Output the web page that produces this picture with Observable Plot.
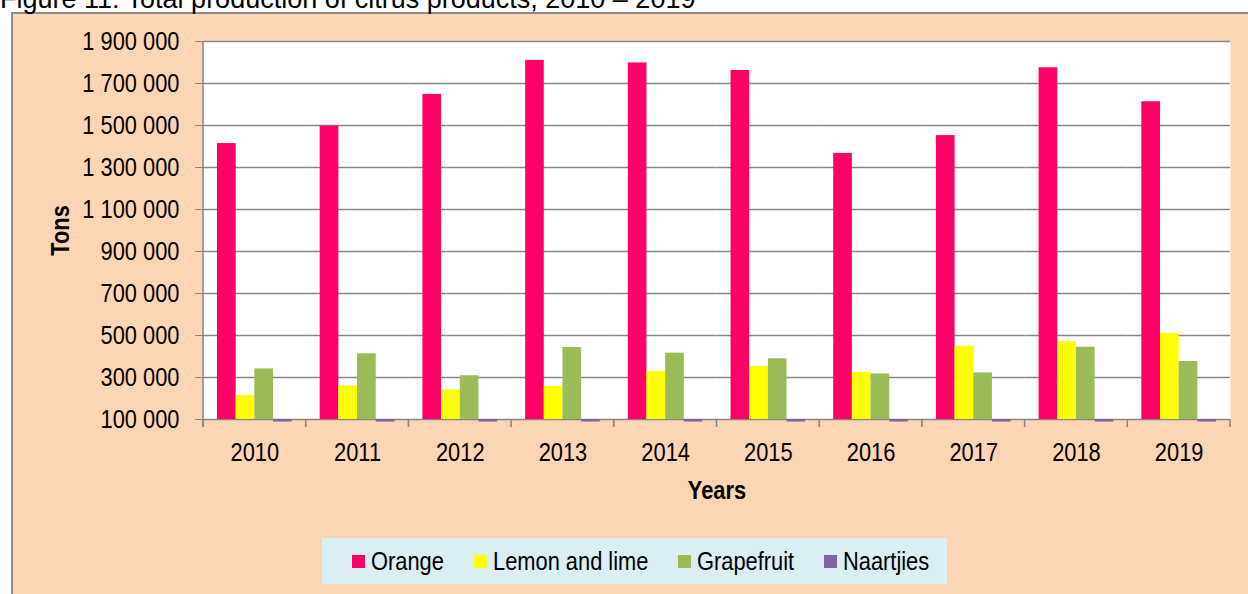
<!DOCTYPE html>
<html><head><meta charset="utf-8">
<script src="https://cdn.jsdelivr.net/npm/d3@7"></script>
<script src="https://cdn.jsdelivr.net/npm/@observablehq/plot@0.6"></script>
<style>
html,body{margin:0;padding:0;background:#fff;overflow:hidden;}
body{width:1248px;height:594px;position:relative;font-family:"Liberation Sans",Arial,sans-serif;}
#title{position:absolute;left:0;top:-14px;font-size:27px;line-height:26px;white-space:nowrap;color:#000;}
#box{position:absolute;left:11px;top:12px;width:1260px;height:600px;background:#FCD5B5;border:2px solid #8C8C8C;box-sizing:border-box;}
#chart{position:absolute;left:0;top:0;}
#legend{position:absolute;left:322px;top:538px;width:625px;height:46px;background:#DBEEF4;display:flex;align-items:center;box-sizing:border-box;padding-left:30px;font-size:26px;color:#000;}
#legend .item{display:flex;align-items:center;margin-right:30px;white-space:nowrap;}
#legend .sw{width:13px;height:13px;margin-right:6px;flex:none;}
#legend .lab{display:inline-block;transform-origin:0 50%;}
[aria-label="y-axis label"], [aria-label="fx-axis label"]{font-weight:bold;}
</style></head>
<body>
<div id="box"></div>
<div id="title">Figure 11: Total production of citrus products, 2010 – 2019</div>
<div id="chart"></div>
<div id="legend"></div>
<script>
const years = ["2010","2011","2012","2013","2014","2015","2016","2017","2018","2019"];
const series = ["Orange","Lemon and lime","Grapefruit","Naartjies"];
const orange = [1414000,1497000,1648000,1810000,1798000,1762000,1367000,1452000,1775000,1613000];
const lemonLime = [214000,260000,240000,257000,329000,352000,324000,449000,471000,510000];
const grapefruit = [341000,413000,308000,443000,416000,389000,317000,322000,444000,376000];
const naartjies = [88000,88000,88000,88000,88000,88000,88000,88000,88000,88000];
const yTicks = [100000,300000,500000,700000,900000,1100000,1300000,1500000,1700000,1900000];
const colors = ["#FF0066","#FFFF00","#9BBB59","#8064A2"];
const yBase = 100000;
const NARROW = 0.84; // horizontal squeeze imitating a narrow typeface

const seriesValues = [orange, lemonLime, grapefruit, naartjies];
const rows = [];
years.forEach((yr, i) => series.forEach((s, j) => rows.push({year: yr, series: s, value: seriesValues[j][i]})));

const fmt = d3.formatLocale({thousands: " ", grouping: [3], decimal: ".", currency: ["", ""]}).format(",");

const chart = Plot.plot({
  width: 1248, height: 520,
  marginLeft: 203, marginRight: 18, marginTop: 41, marginBottom: 101,
  style: {background: "transparent", fontFamily: '"Liberation Sans",Arial,sans-serif', fontSize: "26px", color: "#000", overflow: "visible"},
  fx: {domain: years, padding: 0, round: false},
  x: {domain: series, paddingInner: 0, paddingOuter: 0.75, round: false, axis: null},
  y: {domain: [yTicks[0], yTicks[yTicks.length - 1]]},
  color: {domain: series, range: colors},
  marks: [
    Plot.frame({fill: "white", stroke: null, facet: "super"}),
    Plot.ruleY(yTicks, {stroke: "#868686", strokeWidth: 1.5}),
    Plot.barY(rows, {fx: "year", x: "series", y1: yBase, y2: "value", fill: "series"}),
    Plot.axisY({ticks: yTicks, tickFormat: fmt, tickSize: 8, tickPadding: 16, stroke: "#868686", fill: "#000",
      label: "Tons", labelAnchor: "center", labelOffset: 153, labelArrow: false}),
    Plot.axisFx({anchor: "bottom", tickSize: 0, tickPadding: 23, fill: "#000", label: "Years", labelAnchor: "center", labelOffset: 79})
  ]
});
document.getElementById("chart").appendChild(chart);

// squeeze svg texts horizontally (narrow typeface look)
chart.querySelectorAll("text").forEach(t => {
  const L = t.getComputedTextLength();
  if (L > 0) {
    t.setAttribute("textLength", (L * NARROW).toFixed(2));
    t.setAttribute("lengthAdjust", "spacingAndGlyphs");
  }
});

// category boundary ticks and the left axis line, positioned with Plot's own scales
const fx = chart.scale("fx"), ys = chart.scale("y");
const svg = d3.select(chart);
const yTop = ys.apply(yTicks[yTicks.length - 1]), yBot = ys.apply(yBase);
const edges = years.map(y => fx.apply(y)).concat([fx.apply(years[years.length - 1]) + fx.bandwidth]);
const g = svg.append("g").attr("stroke", "#868686").attr("stroke-width", 1.5);
g.append("line").attr("x1", edges[0]).attr("x2", edges[0]).attr("y1", yTop).attr("y2", yBot + 8);
edges.forEach(x => g.append("line").attr("x1", x).attr("x2", x).attr("y1", yBot).attr("y2", yBot + 8));

// legend
const legend = d3.select("#legend");
series.forEach((s, i) => {
  const it = legend.append("div").attr("class", "item");
  it.append("div").attr("class", "sw").style("background", colors[i]);
  const lab = it.append("span").attr("class", "lab").text(s);
  const w = lab.node().getBoundingClientRect().width;
  lab.style("transform", `scaleX(${NARROW})`).style("margin-right", `${-(1 - NARROW) * w}px`);
});
</script>
</body></html>
